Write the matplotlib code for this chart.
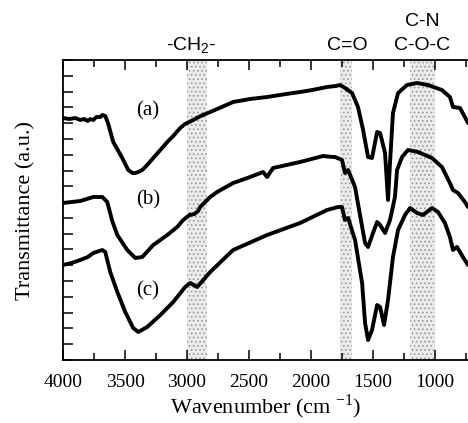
import numpy as np
import matplotlib
matplotlib.use("Agg")
import matplotlib.pyplot as plt
from matplotlib.ticker import MultipleLocator, FixedLocator

plt.rcParams['font.family'] = ['Liberation Serif', 'DejaVu Serif']
plt.rcParams['mathtext.fontset'] = 'custom'
plt.rcParams['mathtext.rm'] = 'Liberation Serif'
plt.rcParams['mathtext.sf'] = 'Liberation Sans'
plt.rcParams['hatch.linewidth'] = 0.7

# --- spectra (wavenumber, transmittance a.u.) ---
wn_a = [4000, 3950, 3900, 3861, 3830, 3800, 3780, 3756, 3730, 3700, 3683, 3659,
        3635, 3595, 3522, 3498, 3474, 3440, 3417, 3393, 3361, 3321, 3272, 3215,
        3159, 3111, 3055, 3015, 2950, 2890, 2813, 2720, 2628, 2491, 2354, 2200,
        2088, 1990, 1871, 1800, 1766, 1726, 1669, 1621, 1580, 1540, 1508, 1467,
        1443, 1403, 1379, 1363, 1339, 1298, 1226, 1145, 1057, 944, 880, 855,
        799, 759, 734]
tr_a = [242, 241, 242, 240, 241, 239, 241, 240, 243, 243, 245, 244,
        236, 218, 202, 196, 190, 187, 187, 188, 190, 195, 202, 210,
        218, 224, 232, 236, 240, 244, 248, 253, 258, 261, 263, 266,
        268, 270, 273, 274, 275, 272, 267, 253, 230, 203, 202, 228,
        227, 207, 160, 197, 247, 267, 275, 277, 275, 270, 263, 253,
        252, 243, 237]

wn_b = [4000, 3861, 3756, 3683, 3643, 3603, 3562, 3482, 3417, 3361, 3272, 3159,
        3079, 3031, 2980, 2940, 2910, 2894, 2813, 2757, 2628, 2491, 2386, 2354,
        2306, 2088, 1903, 1822, 1806, 1750, 1726, 1701, 1645, 1605, 1564, 1540,
        1500, 1467, 1443, 1403, 1363, 1323, 1306, 1266, 1218, 1137, 1024, 944,
        880, 855, 815, 759, 734]
tr_b = [157, 159, 163, 163, 158, 139, 125, 110, 102, 103, 115, 125,
        133, 140, 145, 146, 149, 153, 163, 168, 177, 183, 188, 183,
        192, 198, 204, 203, 203, 200, 187, 190, 173, 145, 117, 113,
        127, 138, 135, 127, 140, 163, 190, 203, 210, 208, 202, 193,
        177, 170, 167, 158, 153]

wn_c = [4000, 3930, 3861, 3800, 3756, 3683, 3659, 3619, 3562, 3498, 3434, 3393,
        3321, 3215, 3111, 3015, 2974, 2918, 2869, 2813, 2628, 2354, 2088, 1871,
        1782, 1750, 1726, 1701, 1645, 1588, 1564, 1540, 1508, 1467, 1443, 1411,
        1379, 1339, 1298, 1242, 1202, 1145, 1097, 1024, 976, 920, 880, 855,
        823, 775, 734]
tr_c = [95, 97, 100, 103, 107, 110, 108, 88, 68, 48, 32, 28,
        33, 45, 58, 73, 77, 73, 80, 88, 110, 125, 137, 150,
        153, 153, 140, 142, 120, 77, 37, 20, 30, 55, 53, 35,
        60, 103, 130, 145, 152, 147, 145, 152, 148, 137, 123, 110,
        113, 103, 95]

bands = [(2840, 3000), (1670, 1765), (1000, 1200)]
band_labels = ["-CH$_\\mathsf{2}$-", "C=O", "C-O-C"]
curve_labels = ["(a)", "(b)", "(c)"]
xticks = [4000, 3500, 3000, 2500, 2000, 1500, 1000]

W, H = 468, 423
fig = plt.figure(figsize=(W / 100, H / 100), dpi=100)
ax = fig.add_axes([63 / W, 1 - 360 / H, 1 - 63 / W, 300 / H])

for lo, hi in bands:
    ax.axvspan(lo, hi, facecolor='#ebebeb', edgecolor='#9a9a9a', hatch='....',
               lw=0, zorder=0)

for wn, tr in [(wn_a, tr_a), (wn_b, tr_b), (wn_c, tr_c)]:
    ax.plot(wn, tr, color='black', lw=2.8, solid_joinstyle='round',
            solid_capstyle='round', zorder=2)

ax.set_xlim(4000, 734)
ax.set_ylim(0, 300)
ax.xaxis.set_major_locator(FixedLocator(xticks))
ax.xaxis.set_minor_locator(MultipleLocator(250))
ax.yaxis.set_major_locator(FixedLocator(np.linspace(0, 300, 20)))
ax.tick_params(axis='x', which='major', direction='in', length=7, width=1.1,
               top=True, labelsize=14, pad=10)
ax.tick_params(axis='x', which='minor', direction='in', length=5, width=1.1, top=True)
ax.tick_params(axis='y', which='major', direction='in', length=7, width=1.1,
               labelleft=False)
for s in ['left', 'bottom', 'top']:
    ax.spines[s].set_linewidth(1.3)
ax.spines['right'].set_visible(False)

ax.set_xlabel("Wavenumber (cm $^{\\mathrm{-1}}$)", fontsize=16, labelpad=1)
ax.set_ylabel("Transmittance (a.u.)", fontsize=16, labelpad=20)

for lab, (x, y) in zip(curve_labels, [(3317, 249), (3317, 160), (3320, 69)]):
    ax.text(x, y, lab, fontsize=15, ha='center', va='center')

for lab, (px, py) in zip(band_labels + ["C-N"],
                         [(191, 46), (347, 46), (422, 46), (422, 21)]):
    fig.text(px / W, 1 - py / H, lab, fontsize=14, ha='center', va='center',
             family=['Liberation Sans', 'DejaVu Sans'])

fig.savefig("out.png", dpi=100)
